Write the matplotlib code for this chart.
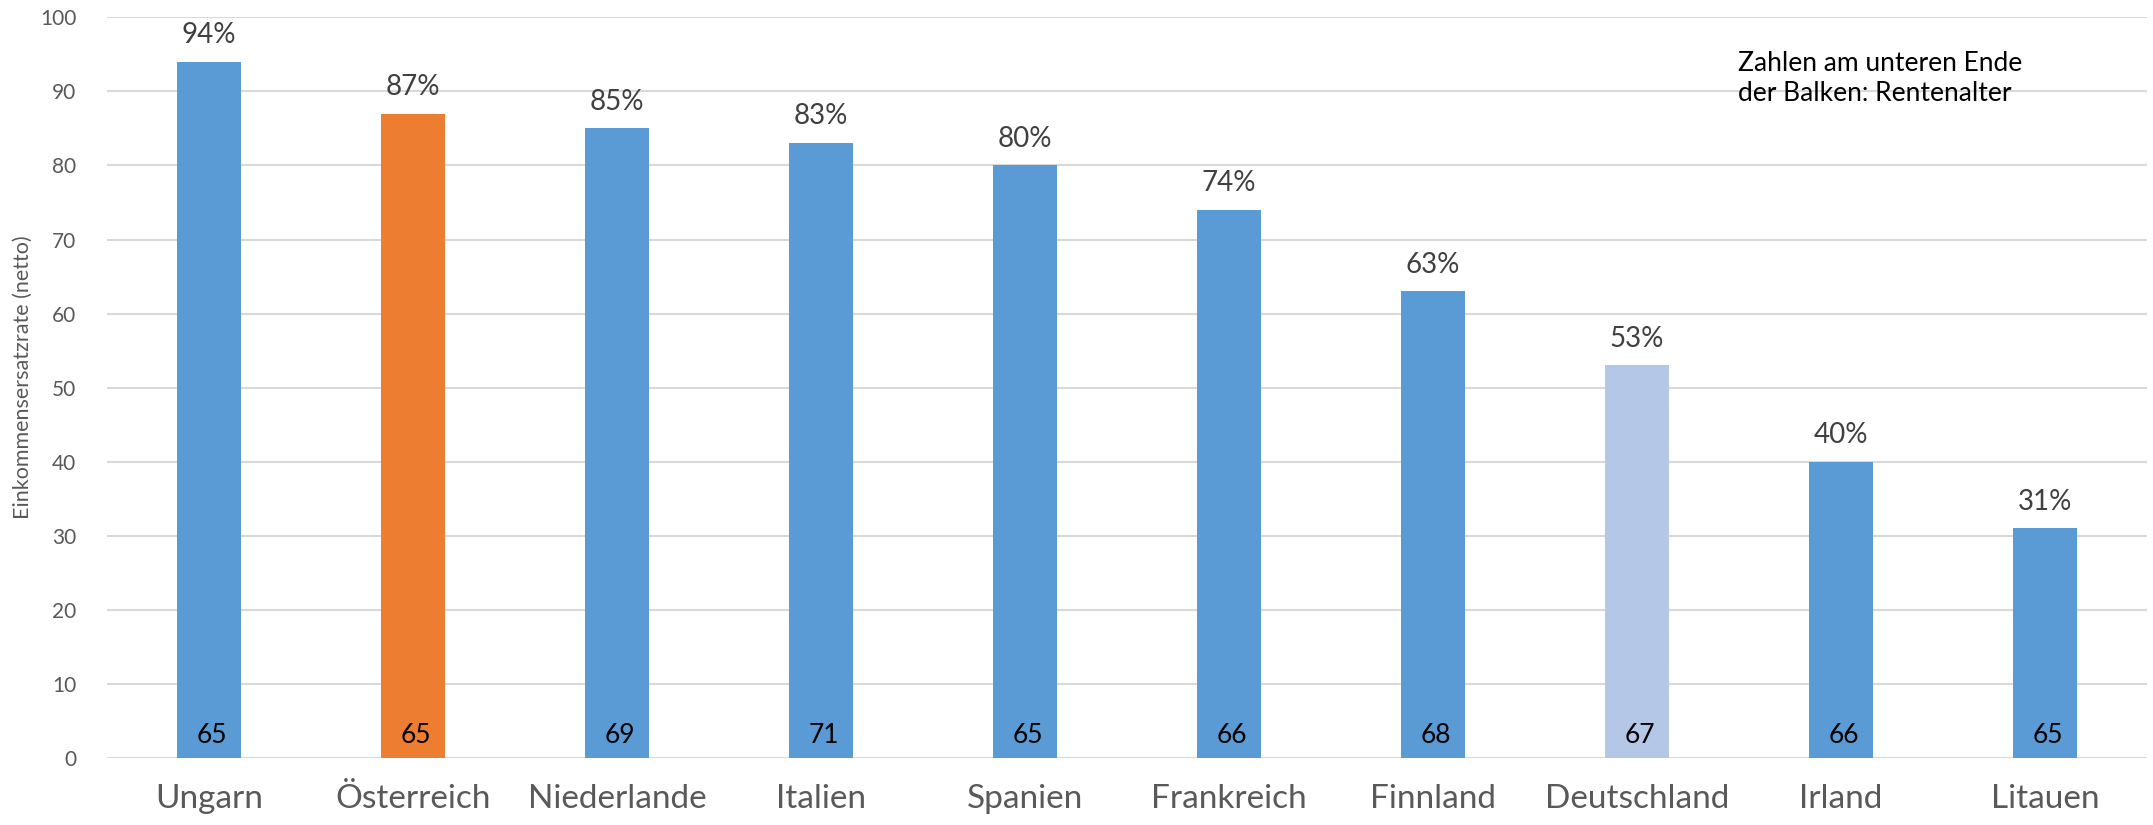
import matplotlib
matplotlib.use("Agg")
import matplotlib.pyplot as plt

plt.rcParams['font.family'] = ['Lato', 'DejaVu Sans']

laender = ['Ungarn', 'Österreich', 'Niederlande', 'Italien', 'Spanien',
           'Frankreich', 'Finnland', 'Deutschland', 'Irland', 'Litauen']
ersatzrate = [94, 87, 85, 83, 80, 74, 63, 53, 40, 31]
rentenalter = [65, 65, 69, 71, 65, 66, 68, 67, 66, 65]
farben = ['#5B9BD5', '#ED7D31', '#5B9BD5', '#5B9BD5', '#5B9BD5',
          '#5B9BD5', '#5B9BD5', '#B4C7E7', '#5B9BD5', '#5B9BD5']
y_ticks = [0, 10, 20, 30, 40, 50, 60, 70, 80, 90, 100]

fig = plt.figure(figsize=(21.53, 8.25), dpi=100)
ax = fig.add_axes([0.0497, 0.0812, 0.9475, 0.8978])

x = list(range(len(laender)))
bars = ax.bar(x, ersatzrate, width=0.31, color=farben, zorder=3)

for xi, wert, alter in zip(x, ersatzrate, rentenalter):
    ax.annotate(f"{wert}%", (xi, wert), xytext=(0, 13.5), textcoords='offset points',
                ha='center', va='baseline', fontsize=20, color='#404040')
    ax.annotate(str(alter), (xi, 0), xytext=(2, 11), textcoords='offset points',
                ha='center', va='baseline', fontsize=19, color='black', zorder=4)

ax.set_xlim(-0.5, len(laender) - 0.5)
ax.set_ylim(0, 100)
ax.set_yticks(y_ticks)
ax.set_xticks(x)
ax.set_xticklabels(laender, fontsize=24, color='#595959')
ax.tick_params(axis='y', labelsize=15, labelcolor='#595959', length=0, pad=22)
ax.tick_params(axis='x', length=0, pad=19)
ax.grid(axis='y', color='#D9D9D9', linewidth=1.5, zorder=0)
for s in ax.spines.values():
    s.set_visible(False)

ax.set_ylabel('Einkommensersatzrate (netto)', fontsize=15.5, color='#595959')
ax.yaxis.set_label_coords(-0.0365, 0.514)

ax.text(0.7995, 0.955, 'Zahlen am unteren Ende\nder Balken: Rentenalter',
        transform=ax.transAxes, ha='left', va='top', fontsize=19, color='black',
        linespacing=1.25)

fig.savefig('out.png', dpi=100)
